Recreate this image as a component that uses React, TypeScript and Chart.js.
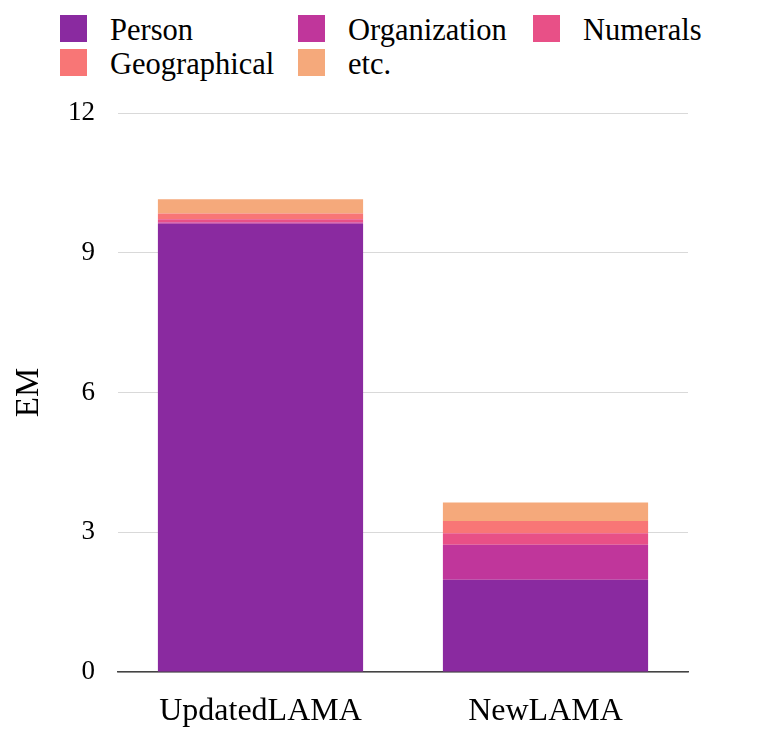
import { useEffect, useRef } from "react";
import Chart from "chart.js/auto";

const categories = ["UpdatedLAMA", "NewLAMA"];
const seriesNames = ["Person", "Organization", "Numerals", "Geographical", "etc."];
const personValues = [9.62, 1.98];
const organizationValues = [0.03, 0.75];
const numeralsValues = [0.07, 0.25];
const geographicalValues = [0.12, 0.26];
const etcValues = [0.31, 0.40];
const yTicks = [0, 3, 6, 9, 12];

const COLORS = ["#8a2aa0", "#c0369b", "#e85087", "#f87676", "#f5a97b"];
const FONT = '"Liberation Serif", "Times New Roman", Times, serif';

export default function App() {
    const canvasRef = useRef<HTMLCanvasElement>(null);
    const chartRef = useRef<Chart | null>(null);

    useEffect(() => {
        document.body.style.margin = "0";
        if (!canvasRef.current) return;
        if (chartRef.current) chartRef.current.destroy();

        const values = [personValues, organizationValues, numeralsValues, geographicalValues, etcValues];

        chartRef.current = new Chart(canvasRef.current, {
            type: "bar",
            data: {
                labels: categories,
                datasets: seriesNames.map((name, i) => ({
                    label: name,
                    data: values[i],
                    backgroundColor: COLORS[i],
                    borderWidth: 0,
                })),
            },
            options: {
                animation: false,
                responsive: true,
                maintainAspectRatio: false,
                layout: { padding: { top: 113, left: 7, right: 73, bottom: 2 } },
                plugins: {
                    legend: { display: false },
                    tooltip: { enabled: false },
                },
                scales: {
                    x: {
                        stacked: true,
                        grid: { display: false, drawTicks: false },
                        border: { display: true, color: "#444", width: 1.5 },
                        ticks: { color: "#000", padding: 20, maxRotation: 0, font: { family: FONT, size: 32 } },
                        afterFit: (axis) => {
                            axis.height = 58;
                        },
                    },
                    y: {
                        stacked: true,
                        min: yTicks[0],
                        max: yTicks[yTicks.length - 1],
                        afterBuildTicks: (axis) => {
                            axis.ticks = yTicks.map(v => ({ value: v }));
                        },
                        afterFit: (axis) => {
                            axis.width = 111;
                        },
                        grid: { color: "#d9d9d9", drawTicks: false },
                        border: { display: false },
                        ticks: { color: "#000", padding: 23, font: { family: FONT, size: 27 } },
                        title: {
                            display: true,
                            text: "EM",
                            color: "#000",
                            font: { family: FONT, size: 33 },
                            padding: { top: 3, bottom: 19 },
                        },
                    },
                },
            },
        });

        return () => {
            if (chartRef.current) {
                chartRef.current.destroy();
                chartRef.current = null;
            }
        };
    }, []);

    return (
        <div style={{ position: "relative", width: 761, height: 732, background: "#fff", fontFamily: FONT }}>
            <div
                style={{
                    position: "absolute",
                    left: 60,
                    top: 15,
                    display: "grid",
                    gridTemplateColumns: "238px 235px auto",
                    rowGap: 7,
                    fontSize: 30.5,
                    lineHeight: "27px",
                    color: "#000",
                }}
            >
                {seriesNames.map((name, i) => (
                    <div key={name} style={{ display: "flex", alignItems: "center", height: 27 }}>
                        <span style={{ display: "inline-block", width: 27, height: 27, background: COLORS[i], marginRight: 23 }} />
                        <span style={{ position: "relative", top: 2 }}>{name}</span>
                    </div>
                ))}
            </div>
            <canvas ref={canvasRef} style={{ position: "absolute", left: 0, top: 0 }} />
        </div>
    );
}
